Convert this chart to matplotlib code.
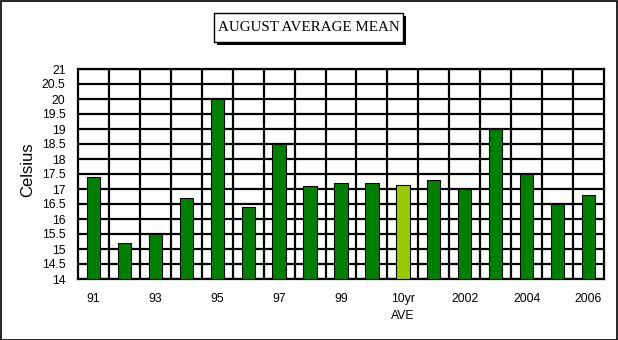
import matplotlib
matplotlib.use("Agg")
import matplotlib.pyplot as plt
from matplotlib.patches import Rectangle
import numpy as np

# August mean temperatures (Celsius), 1991-2006 with the 10-year average
categories = ["91", "92", "93", "94", "95", "96", "97", "98", "99", "2000",
              "10yr\nAVE", "2001", "2002", "2003", "2004", "2005", "2006"]
values = [17.4, 15.2, 15.5, 16.7, 20.0, 16.4, 18.5, 17.1, 17.2, 17.2,
          17.12, 17.3, 17.0, 19.0, 17.5, 16.5, 16.8]
shown_labels = ["91", "", "93", "", "95", "", "97", "", "99", "",
                "10yr\nAVE", "", "2002", "", "2004", "", "2006"]
y_ticks = [14, 14.5, 15, 15.5, 16, 16.5, 17, 17.5, 18, 18.5, 19, 19.5, 20, 20.5, 21]
y_tick_labels = ["14", "14.5", "15", "15.5", "16", "16.5", "17", "17.5", "18",
                 "18.5", "19", "19.5", "20", "20.5", "21"]

W, H = 618, 340
fig = plt.figure(figsize=(W / 100, H / 100), dpi=100)
fig.patch.set_facecolor("white")

ax = fig.add_axes([78 / W, (H - 279) / H, 526 / W, 210 / H])

x = np.arange(len(categories))
colors = ["#99CC00" if c.startswith("10yr") else "#008000" for c in categories]
ax.bar(x, [v - 14 for v in values], bottom=14, width=0.43, color=colors,
       edgecolor="black", linewidth=0.8, zorder=3)

ax.set_xlim(-0.5, len(categories) - 0.5)
ax.set_ylim(14, 21)

# horizontal grid every 0.5 and vertical lines between categories
for yv in y_ticks:
    ax.axhline(yv, color="black", linewidth=1.6, zorder=1)
for xv in np.arange(0.5, len(categories) - 0.5, 1):
    ax.axvline(xv, color="black", linewidth=1.6, zorder=1)

tick_font = dict(family=["Liberation Sans Narrow", "Liberation Sans", "DejaVu Sans"], size=8.8)
ax.set_yticks(y_ticks)
ax.set_yticklabels(y_tick_labels, fontdict=tick_font)
ax.set_xticks(x)
ax.set_xticklabels(shown_labels, fontdict=tick_font, linespacing=1.6)
ax.tick_params(axis="x", direction="in", length=3, width=0.8, pad=10, top=False)
ax.tick_params(axis="y", length=0, pad=9)

for s in ax.spines.values():
    s.set_linewidth(1.6)
    s.set_color("black")

ax.set_ylabel("Celsius", fontsize=12, family=["Liberation Sans", "DejaVu Sans"])
ax.yaxis.set_label_coords(-0.082, 0.52)

# title box with drop shadow
bx0, by0, bw, bh = 214, 13, 189, 29
fig.add_artist(Rectangle(((bx0 + 3) / W, (H - by0 - bh - 3) / H), bw / W, bh / H,
                         transform=fig.transFigure, facecolor="black",
                         edgecolor="black", linewidth=0))
fig.add_artist(Rectangle((bx0 / W, (H - by0 - bh) / H), bw / W, bh / H,
                         transform=fig.transFigure, facecolor="white",
                         edgecolor="black", linewidth=1.0))
fig.text((bx0 + bw / 2) / W, (H - by0 - bh / 2) / H, "AUGUST AVERAGE MEAN",
         ha="center", va="center", fontsize=10.8,
         family=["Liberation Serif", "DejaVu Serif"])

# outer frame
fig.add_artist(Rectangle((0.5 / W, 0.5 / H), (W - 1.5) / W, (H - 1.5) / H,
                         transform=fig.transFigure, facecolor="none",
                         edgecolor="black", linewidth=1.2))

fig.savefig("out.png", dpi=100)
